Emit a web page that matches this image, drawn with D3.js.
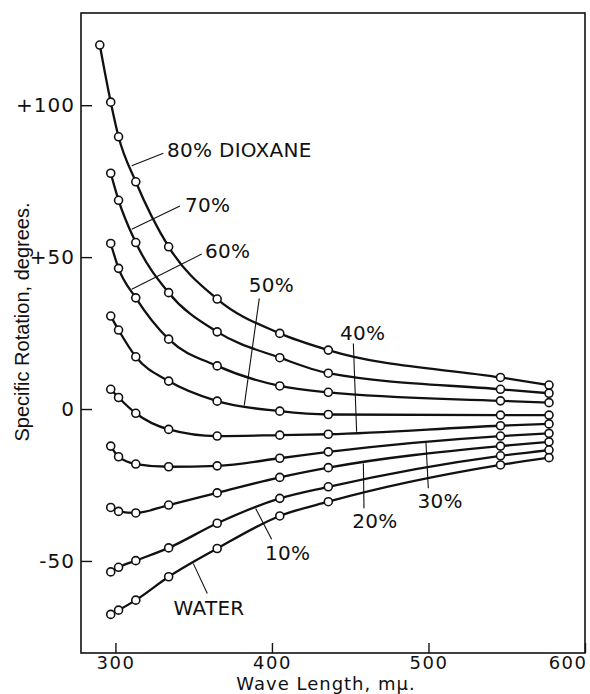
<!DOCTYPE html>
<html>
<head>
<meta charset="utf-8">
<script src="https://cdn.jsdelivr.net/npm/d3@7"></script>
<style>
  body { margin: 0; background: #fff; }
  text { font-family: "DejaVu Sans", sans-serif; fill: #111; }
</style>
</head>
<body>
<script>
// DATA

// Mercury lines used for the readings (m\u03bc)
const wavelengths = [297, 302, 313, 334, 365, 405, 436, 546, 577];
const wavelengths80 = [290, 297, 302, 313, 334, 365, 405, 436, 546, 577];

// Specific rotation, degrees
const dioxane80 = [119.8, 101.0, 89.6, 74.8, 53.4, 36.2, 24.9, 19.4, 10.4, 7.9];
const dioxane70 = [77.6, 68.7, 54.8, 38.3, 25.4, 16.9, 11.8, 6.5, 5.2];
const dioxane60 = [54.5, 46.3, 36.6, 23.0, 14.2, 7.6, 5.5, 2.7, 2.1];
const dioxane50 = [30.6, 26.0, 17.2, 9.2, 2.6, -0.7, -1.8, -2.0, -2.0];
const dioxane40 = [6.5, 3.8, -1.4, -6.7, -8.9, -8.6, -8.3, -5.5, -4.9];
const dioxane30 = [-12.2, -15.7, -18.1, -19.0, -18.7, -16.2, -14.1, -8.9, -8.0];
const dioxane20 = [-32.4, -33.7, -34.2, -31.6, -27.6, -22.5, -19.3, -12.2, -10.8];
const dioxane10 = [-53.6, -52.1, -49.9, -45.7, -37.6, -29.4, -25.6, -15.4, -13.5];
const water = [-67.6, -66.2, -62.9, -55.2, -45.9, -35.2, -30.5, -18.4, -16.0];

const seriesNames = ['80% DIOXANE', '70%', '60%', '50%', '40%', '30%', '20%', '10%', 'WATER'];

// Tick labels
const xTicks = [300, 400, 500, 600];
const yTicks = [-50, 0, 50, 100];
const yTickLabels = ['-50', '0', '+50', '+100'];

// Label leaders in data units: [wave length, rotation] on the curve, at the elbow, and at the text
const leaderFrom = [[310.4, 80.1], [310.4, 59.2], [310.4, 39.4], [382.3, 1.1], [454.1, -7.5], [498.4, -11.2], [458.4, -17.9], [389.6, -32.7], [349.7, -50.8]];
const leaderTo = [[330.6, 84.2], [341.2, 66.8], [355.1, 51.0], [391.9, 36.4], [452.0, 21.6], [499.9, -26.1], [458.8, -32.7], [399.8, -42.9], [358.7, -60.7]];
const labelAt = [[332.9, 83.0], [344.4, 64.9], [357.2, 49.6], [399.7, 38.6], [457.9, 22.7], [507.4, -32.7], [465.8, -39.3], [395.6, -49.7], [359.8, -67.8]];
const labelAnchor = ['start', 'start', 'start', 'middle', 'middle', 'middle', 'middle', 'start', 'middle'];

// Needed Variables
const width = 590;
const height = 694;
const frame = {left: 81, right: 585, top: 13, bottom: 653};

// Build one table for the lines
const allValues = [dioxane80, dioxane70, dioxane60, dioxane50, dioxane40, dioxane30, dioxane20, dioxane10, water];
const series = allValues.map(function(vals, i){
  var wl = (i === 0) ? wavelengths80 : wavelengths;
  return {name: seriesNames[i], points: vals.map((v, j) => ({wl: wl[j], rot: v}))};
});

// Create svg element
var svg = d3.select('body')
  .append('svg')
  .attr('width', width)
  .attr('height', height);

// Scales
var xScale = d3.scaleLinear()
  .domain([278, 600])
  .range([frame.left, frame.right]);

var yScale = d3.scaleLinear()
  .domain([-80.3, 130.35])
  .range([frame.bottom, frame.top]);

// Frame round the plot
svg.append('rect')
  .attr('x', xScale(278))
  .attr('y', yScale(130.35))
  .attr('width', xScale(600) - xScale(278))
  .attr('height', yScale(-80.3) - yScale(130.35))
  .attr('fill', 'none')
  .attr('stroke', '#111')
  .attr('stroke-width', 1.6);

// Axes, ticks pointing inward
var xAxis = svg.append('g')
  .attr('transform', 'translate(0,' + frame.bottom + ')')
  .call(d3.axisBottom(xScale).tickValues(xTicks).tickSize(-10).tickPadding(3).tickFormat(d3.format('d')));

var yAxis = svg.append('g')
  .attr('transform', 'translate(' + frame.left + ',0)')
  .call(d3.axisLeft(yScale).tickValues(yTicks).tickSize(-11).tickPadding(6).tickFormat((d, i) => yTickLabels[i]));

[xAxis, yAxis].forEach(function(ax){
  ax.select('.domain').remove();
  ax.selectAll('line').attr('stroke', '#111').attr('stroke-width', 1.4);
  ax.selectAll('text')
    .attr('font-family', '"DejaVu Sans", sans-serif')
    .attr('font-size', 20)
    .attr('letter-spacing', 1)
    .attr('fill', '#111');
});
xAxis.selectAll('text').attr('font-size', 18).attr('letter-spacing', 1.5);

// last x label sits inside the frame corner
xAxis.selectAll('.tick')
  .filter(d => d === 600)
  .select('text')
  .attr('text-anchor', 'end')
  .attr('x', 2);

// Axis titles
svg.append('text')
  .attr('x', 326)
  .attr('y', 689.5)
  .attr('text-anchor', 'middle')
  .attr('font-size', 18)
  .attr('letter-spacing', 1)
  .text('Wave Length, m\u03bc.');

svg.append('text')
  .attr('transform', 'translate(29,322) rotate(-90)')
  .attr('text-anchor', 'middle')
  .style('font-family', '"Liberation Sans", Arial, sans-serif')
  .attr('font-size', 20)
  .text('Specific Rotation, degrees.');

// Curves
var line = d3.line()
  .x(d => xScale(d.wl))
  .y(d => yScale(d.rot))
  .curve(d3.curveMonotoneX);

svg.append('g')
  .selectAll('path')
  .data(series)
  .join('path')
  .attr('d', d => line(d.points))
  .attr('fill', 'none')
  .attr('stroke', '#111')
  .attr('stroke-width', 2.3);

// Leader lines
svg.append('g')
  .selectAll('polyline')
  .data(seriesNames)
  .join('polyline')
  .attr('points', (d, i) => [leaderFrom[i], leaderTo[i]].map(p => xScale(p[0]) + ',' + yScale(p[1])).join(' '))
  .attr('fill', 'none')
  .attr('stroke', '#111')
  .attr('stroke-width', 1.1);

// Data points
svg.append('g')
  .selectAll('g')
  .data(series)
  .join('g')
  .selectAll('circle')
  .data(d => d.points)
  .join('circle')
  .attr('cx', d => xScale(d.wl))
  .attr('cy', d => yScale(d.rot))
  .attr('r', 4)
  .attr('fill', '#fff')
  .attr('stroke', '#111')
  .attr('stroke-width', 1.6);

// Series labels
svg.append('g')
  .selectAll('text')
  .data(seriesNames)
  .join('text')
  .attr('x', (d, i) => xScale(labelAt[i][0]))
  .attr('y', (d, i) => yScale(labelAt[i][1]))
  .attr('text-anchor', (d, i) => labelAnchor[i])
  .attr('font-size', 20)
  .attr('letter-spacing', 0.3)
  .text(d => d);
</script>
</body>
</html>
